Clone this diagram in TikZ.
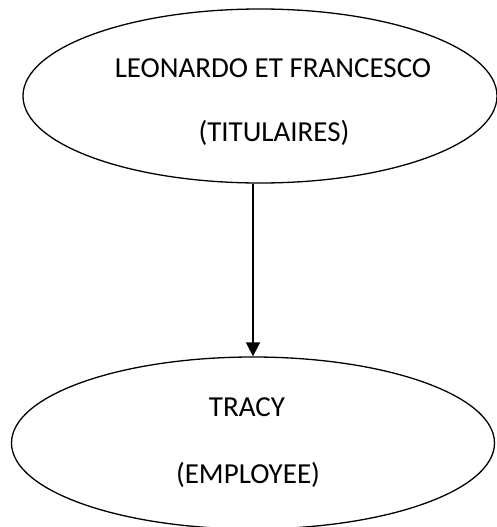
\documentclass[tikz,border=0pt]{standalone}
\usepackage{fontspec}
\setmainfont{Carlito}
\usetikzlibrary{arrows.meta}
\usetikzlibrary{shapes}

\begin{document}
\begin{tikzpicture}[x=1pt,y=-1pt,>={Triangle[width=14pt,length=14pt]},
  actor/.style={ellipse,draw,line width=1.3pt,inner sep=0pt},
  caption/.style={inner sep=0pt,align=center,font=\fontsize{29}{35}\selectfont}]
  \useasboundingbox (0,0) rectangle (497,527);
  \node[actor,minimum width=474pt,minimum height=174pt] (nt) at (260,96) {};
  \node[actor,minimum width=483pt,minimum height=172pt] (ne) at (253,443) {};
  \node[caption] (nt1) at (273,68) {LEONARDO ET FRANCESCO};
  \node[caption] (nt2) at (274,133) {(TITULAIRES)};
  \node[caption] (ne1) at (247,407) {TRACY};
  \node[caption] (ne2) at (248,475) {(EMPLOYEE)};

  \draw[->,line width=1.6pt] (ne.north |- nt.south) -- (ne.north);

\end{tikzpicture}
\end{document}
